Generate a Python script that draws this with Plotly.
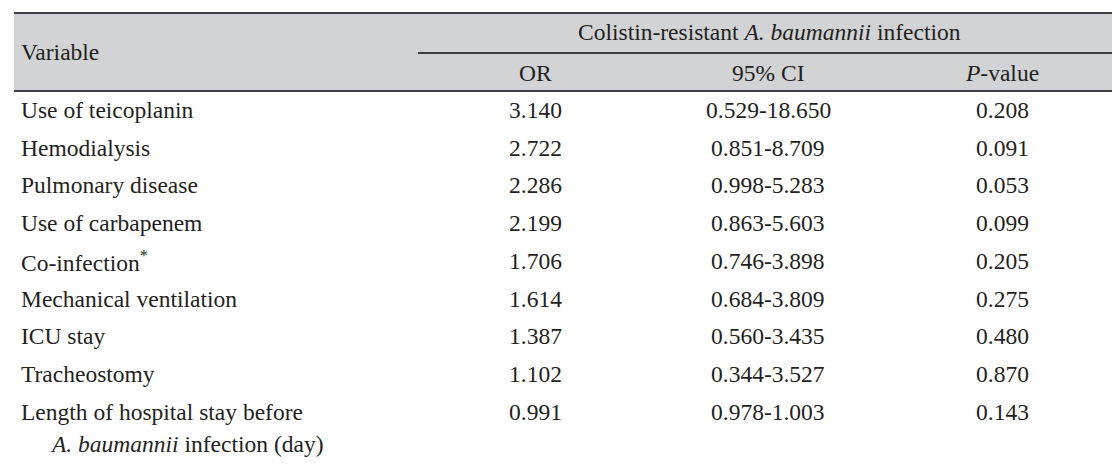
import plotly.graph_objects as go

# ---- data ----
variables = [
    "Use of teicoplanin",
    "Hemodialysis",
    "Pulmonary disease",
    "Use of carbapenem",
    "Co-infection<sup>*</sup>",
    "Mechanical ventilation",
    "ICU stay",
    "Tracheostomy",
    "Length of hospital stay before",
]
variable_continuation = "<i>A. baumannii</i> infection (day)"
or_values = ["3.140", "2.722", "2.286", "2.199", "1.706", "1.614", "1.387", "1.102", "0.991"]
ci_values = ["0.529-18.650", "0.851-8.709", "0.998-5.283", "0.863-5.603", "0.746-3.898",
             "0.684-3.809", "0.560-3.435", "0.344-3.527", "0.978-1.003"]
p_values = ["0.208", "0.091", "0.053", "0.099", "0.205", "0.275", "0.480", "0.870", "0.143"]
header_group = "Colistin-resistant <i>A. baumannii</i> infection"
col_headers = ["OR", "95% CI", "<i>P</i>-value"]
stub_header = "Variable"

# ---- layout constants ----
W, H = 1120, 470
left, right = 6, 1113
top_y, mid_y, head_y, bottom_y = 5, 45, 83, 466
group_x0 = 410
col_centers = [527, 760, 994]
row0, row_step = 102, 37.7
font = dict(family="Liberation Serif, Times New Roman, serif", size=23.5, color="#231f20")
line_col = "#3d3d3f"

fig = go.Figure()
fig.update_layout(
    width=W, height=H, margin=dict(l=0, r=0, t=0, b=0),
    paper_bgcolor="white", plot_bgcolor="white",
    xaxis=dict(range=[0, W], visible=False, fixedrange=True),
    yaxis=dict(range=[H, 0], visible=False, fixedrange=True),
    showlegend=False,
)

shapes = [
    dict(type="rect", x0=left, x1=right, y0=top_y, y1=head_y, fillcolor="#d1d3d4",
         line=dict(width=0), layer="below"),
    dict(type="line", x0=left, x1=right, y0=top_y, y1=top_y, line=dict(color=line_col, width=2.2)),
    dict(type="line", x0=group_x0, x1=right, y0=mid_y, y1=mid_y, line=dict(color=line_col, width=1.8)),
    dict(type="line", x0=left, x1=right, y0=head_y, y1=head_y, line=dict(color=line_col, width=1.8)),
    dict(type="line", x0=left, x1=right, y0=bottom_y, y1=bottom_y, line=dict(color=line_col, width=2.2)),
]
fig.update_layout(shapes=shapes)

ann = []
ann.append(dict(x=11, y=(top_y + head_y) / 2, text=stub_header, xanchor="left", yanchor="middle"))
ann.append(dict(x=(group_x0 + right) / 2, y=24, text=header_group, xanchor="center", yanchor="middle"))
for cx, t in zip(col_centers, col_headers):
    ann.append(dict(x=cx, y=65, text=t, xanchor="center", yanchor="middle"))

for i, v in enumerate(variables):
    y = row0 + i * row_step
    ann.append(dict(x=11, y=y, text=v, xanchor="left", yanchor="middle"))
    for cx, vals in zip(col_centers, [or_values, ci_values, p_values]):
        ann.append(dict(x=cx, y=y, text=vals[i], xanchor="center", yanchor="middle"))
ann.append(dict(x=40, y=row0 + (len(variables) - 1) * row_step + 32, text=variable_continuation,
                xanchor="left", yanchor="middle"))

for a in ann:
    a.update(xref="x", yref="y", showarrow=False, font=font)
fig.update_layout(annotations=ann)

fig.write_html("out.html")
